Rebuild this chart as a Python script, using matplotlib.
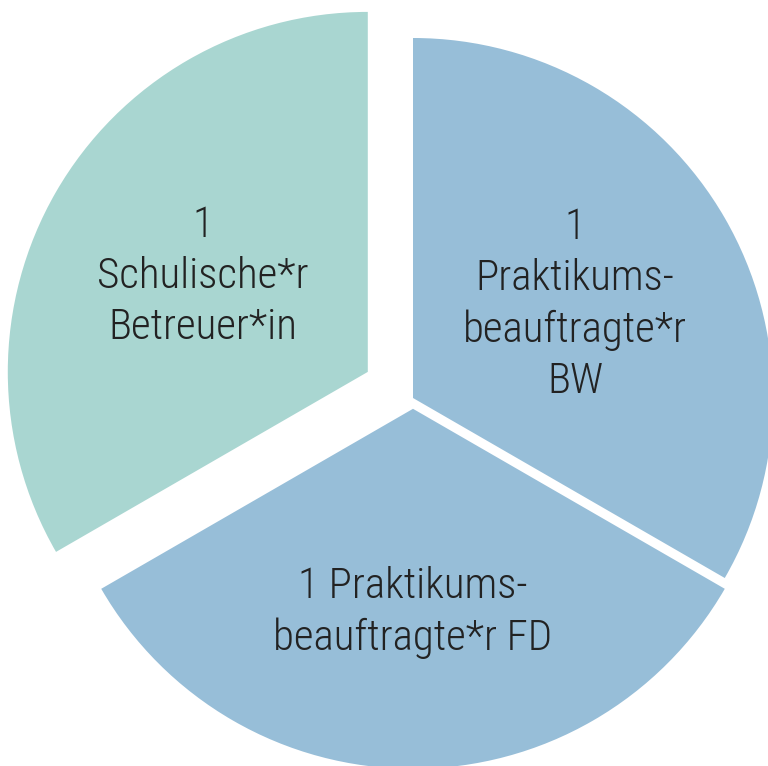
import numpy as np
import matplotlib.pyplot as plt
from matplotlib import font_manager

labels = ["1\nPraktikums-\nbeauftragte*r\nBW", "1 Praktikums-\nbeauftragte*r FD", "1\nSchulische*r\nBetreuer*in"]
values = [1, 1, 1]
colors = ["#97bed8", "#97bed8", "#a9d6d1"]
explode = [0.0, 0.03, 0.145]
label_dist = [0.52, 0.565, 0.53]

names = {f.name for f in font_manager.fontManager.ttflist}
family, size = "DejaVu Sans", 26
for cand, sz in [("Liberation Sans Narrow", 31), ("Roboto Condensed", 31),
                 ("DejaVu Sans Condensed", 28), ("Liberation Sans", 28)]:
    if cand in names:
        family, size = cand, sz
        break

fig = plt.figure(figsize=(7.68, 7.66), dpi=100)
ax = fig.add_axes([0, 0, 1, 1])

wedges, texts = ax.pie(values, labels=labels, colors=colors, explode=explode,
                       startangle=90, counterclock=False, labeldistance=0.5,
                       textprops=dict(fontsize=size, color="#222222", family=family,
                                      weight="light", linespacing=1.32))
for w, t, d in zip(wedges, texts, label_dist):
    mid = np.deg2rad((w.theta1 + w.theta2) / 2)
    cx, cy = w.center
    t.set_position((cx + d * w.r * np.cos(mid), cy + d * w.r * np.sin(mid)))
    t.set_ha("center")
    t.set_va("center")
    t.set_multialignment("center")

# pie centre sits near (413, 398) px, radius 360 px
ax.set_xlim(-413 / 360, 355 / 360)
ax.set_ylim(-368 / 360, 398 / 360)
ax.set_aspect("auto")
ax.axis("off")

fig.savefig("out.png", dpi=100)
